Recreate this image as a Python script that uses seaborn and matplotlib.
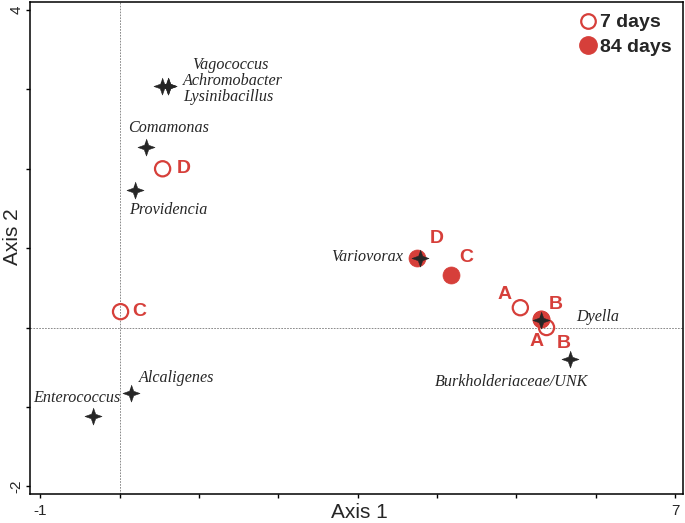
import numpy as np
import pandas as pd
import matplotlib
matplotlib.use("Agg")
import matplotlib.pyplot as plt
from matplotlib.lines import Line2D
import seaborn as sns

# sample sites (A-D) at two incubation times
site_labels = ["D", "C", "A", "B", "D", "C", "A", "B"]
site_days = ["7 days", "7 days", "7 days", "7 days", "84 days", "84 days", "84 days", "84 days"]
site_x = [0.54, 0.01, 5.05, 5.38, 3.75, 4.18, 5.31, 5.31]
site_y = [2.00, 0.20, 0.25, 0.00, 0.88, 0.66, 0.11, 0.11]

# genera
genus_names = ["Vagococcus", "Achromobacter", "Lysinibacillus", "Comamonas", "Providencia",
               "Variovorax", "Dyella", "Burkholderiaceae/UNK", "Alcaligenes", "Enterococcus"]
genus_x = [0.53, 0.61, 0.61, 0.33, 0.19, 3.79, 5.31, 5.67, 0.14, -0.34]
genus_y = [3.04, 3.04, 3.04, 2.28, 1.73, 0.88, 0.10, -0.40, -0.82, -1.11]

RED = "#d63f3a"
DARK = "#262626"

# label offsets in pixels (site labels) and text anchors (genus labels)
site_off = [(21, 0), (19, 0), (-16, 13), (17, -16), (20, 19), (15, 18), (-4, -23), (15, 14)]
genus_off = [(30, 21), (15, 5), (15, -11), (-18, 19), (-6, -20),
             (-17, 1), (35, 3), (-135, -23), (8, 15), (-60, 18)]
genus_ha = ["left", "left", "left", "left", "left", "right", "left", "left", "left", "left"]

sites = pd.DataFrame({"x": site_x, "y": site_y, "site": site_labels, "days": site_days})
genera = pd.DataFrame({"x": genus_x, "y": genus_y, "name": genus_names})

sns.set_style("white")
plt.rcParams["font.family"] = ["Liberation Sans", "DejaVu Sans"]

fig = plt.figure(figsize=(6.85, 5.23), dpi=100)
ax = fig.add_axes([0.044, 0.055, 0.953, 0.941])

ax.axvline(0, color="#777777", lw=0.6, ls=(0, (2, 1.5)), zorder=0)
ax.axhline(0, color="#777777", lw=0.6, ls=(0, (2, 1.5)), zorder=0)

star = [(0, 1), (0.26, 0.26), (1, 0), (0.26, -0.26), (0, -1), (-0.26, -0.26), (-1, 0), (-0.26, 0.26)]

late = sites[sites["days"] == "84 days"]
early = sites[sites["days"] == "7 days"]
sns.scatterplot(data=late, x="x", y="y", ax=ax, color=RED, s=150, edgecolor=RED, linewidth=0.5, zorder=2)
ax.scatter(early["x"], early["y"], s=120, facecolors="none", edgecolors=RED, linewidths=1.6, zorder=3)
sns.scatterplot(data=genera, x="x", y="y", ax=ax, marker=star, color=DARK, s=150, edgecolor=DARK,
                linewidth=0.4, zorder=4)

for (_, r), off in zip(sites.iterrows(), site_off):
    ax.annotate(r["site"], (r["x"], r["y"]), xytext=off, textcoords="offset pixels",
                ha="center", va="center", color=RED, fontsize=14, fontweight="bold")

for (_, r), off, ha in zip(genera.iterrows(), genus_off, genus_ha):
    ax.annotate(r["name"], (r["x"], r["y"]), xytext=off, textcoords="offset pixels",
                ha=ha, va="center", color=DARK, fontsize=11.6, fontstyle="italic",
                family="Liberation Serif")

ax.set_xlim(-1.13, 7.1)
ax.set_ylim(-2.1, 4.1)
ax.set_xticks(range(-1, 8))
ax.set_xticklabels(["-1", "", "", "", "", "", "", "", "7"])
ax.set_yticks(range(-2, 5))
ax.set_yticklabels(["-2", "", "", "", "", "", "4"], rotation=90, va="center")
ax.tick_params(direction="out", length=3, width=1, color="black", labelsize=11, pad=2,
               bottom=True, left=True)
ax.tick_params(axis="x", pad=4)
for sp in ax.spines.values():
    sp.set_color("black")
    sp.set_linewidth(1.1)

ax.set_xlabel("Axis 1", fontsize=15, va="center")
ax.set_ylabel("Axis 2", fontsize=15, va="center", ha="center")
ax.xaxis.set_label_coords(0.504, -0.038)
ax.yaxis.set_label_coords(-0.0265, 0.523)

handles = [Line2D([], [], marker="o", ls="", markersize=10.5, markerfacecolor="none",
                  markeredgecolor=RED, markeredgewidth=1.6),
           Line2D([], [], marker="o", ls="", markersize=12.5, markerfacecolor=RED, markeredgecolor=RED)]
leg = ax.legend(handles, ["7 days", "84 days"], loc="upper right", frameon=False,
                prop={"weight": "bold", "size": 14}, handletextpad=0.1, handlelength=1.0,
                labelspacing=0.35, borderaxespad=0.2)

fig.savefig("out.png", dpi=100)
